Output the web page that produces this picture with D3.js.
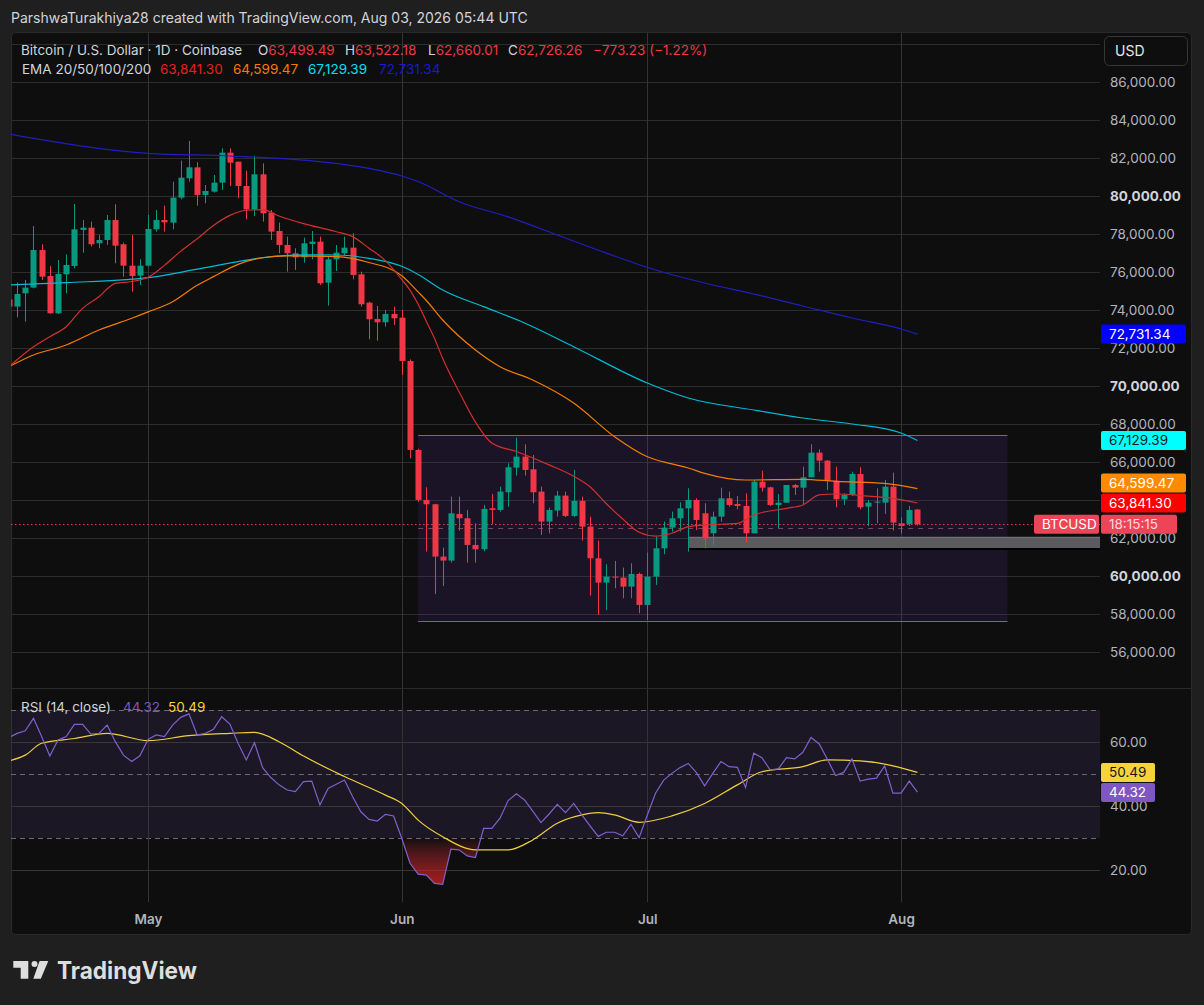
<!DOCTYPE html>
<html>
<head>
<meta charset="utf-8">
<script src="https://cdn.jsdelivr.net/npm/d3@7"></script>
<style>
  html, body { margin: 0; background: #1f1f1f; }
  svg text { font-family: Inter, "Noto Sans", sans-serif; }
</style>
</head>
<body>
<svg id="chart" width="1204" height="1005"></svg>
<script>
// daily bars, first one is 2026-04-14
const DAY = 864e5
const t0 = Date.UTC(2026, 3, 14)
const dayDate = d => new Date(t0 + d * DAY)

const open = [74550,74178,74879,75177,77159,75791,73827,75879,76317,78212,
  78335,77510,77685,78738,77458,76335,75809,76335,78247,78738,
  78598,79913,80931,81509,80054,80229,80702,82281,81807,80527,
  79299,81141,79124,78159,77423,76984,76773,77475,77598,75440,
  76668,76984,77282,75879,74388,73529,73353,73792,73597,71317,
  66634,64003,63775,61021,60811,63266,63038,61635,61407,63564,
  63477,64406,65704,66283,65616,64441,62863,63442,64231,63161,
  63950,62599,60933,59653,59968,59916,59442,60109,58477,59968,
  61460,62546,63038,63564,64001,63300,62247,63125,64089,63791,
  63686,62247,64966,64668,63738,63861,64791,64650,65194,66492,
  66071,65019,64036,64265,65370,63650,63861,63861,64703,62774,
  62739,63499.49]
const high = [74700,75440,75581,78422,77458,76317,76633,76931,79580,78738,
  78650,77948,79001,79562,77546,77949,76668,79001,79264,79492,
  80755,81860,82895,81772,80580,81106,82509,82509,81807,81334,
  82123,81720,79264,78598,77861,77247,77808,78159,77861,76809,
  77423,77861,78036,76019,74441,74212,74002,74178,74001,71400,
  66700,64669,63800,61495,64178,64178,63476,62775,63740,64318,
  64705,65932,67283,66932,66371,64705,63599,64476,64441,65581,
  64178,63126,61863,60617,60793,60442,60670,60179,61232,62074,
  62863,63389,63880,64617,64089,63826,63388,64650,64440,64212,
  64352,65054,65545,64703,64317,64791,64843,65755,66931,66667,
  66106,65755,64352,65492,65721,64001,64615,65054,65440,63089,
  63686,63522.18]
const low = [74000,73616,73388,75140,75581,73800,73790,74879,76195,77019,
  77335,77247,77422,76458,75756,74967,75318,76282,78124,78124,
  78247,79825,80755,79492,79615,80176,80317,80527,79878,78773,
  78948,78650,77685,76984,76019,76107,76493,76668,75318,74230,
  76054,76896,75616,74178,72459,72388,73125,73213,70580,66195,
  63900,61284,59056,59477,60705,62389,60705,60705,61300,62740,
  63389,63652,65283,65283,63828,62161,62249,63126,63100,63100,
  61863,58969,57951,58214,59354,58828,58828,58039,57688,59530,
  61144,62337,62337,61284,62423,61458,61633,62862,63650,63510,
  61756,62247,64440,63686,62511,63861,64264,63738,65194,65492,
  64528,63615,63738,64212,63510,62633,62774,63265,62388,62247,
  62633,62660.01]
const close = [74180,74844,75177,77159,75756,73827,75897,76370,78247,78335,
  77458,77685,78738,77388,76335,75791,76335,78264,78738,78615,
  79913,80966,81509,80054,80264,80702,82281,81755,80527,79299,
  81141,79089,78124,77423,76984,76773,77510,77598,75405,76668,
  77019,77282,75844,74300,73511,73353,73792,73564,71317,66634,
  64003,63775,61021,60811,63301,63038,61635,61407,63529,63477,
  64441,65722,66283,65582,64406,62863,63477,64231,63161,63950,
  62599,60933,59653,59968,59916,59442,60109,58477,59968,61460,
  62546,63038,63564,64003,62949,61984,63125,64089,63738,63686,
  62247,64966,64650,63738,63861,64791,64650,65194,66492,66071,
  65019,64036,64265,65370,63615,63861,63914,64703,62809,62633,
  63475,62726.26]

// EMA values: [day, price]
const ema20 = [[0,71017],[3,72070],[5,72596],[7,73122],[9,74088],[11,74700],[13,75404],[15,75500],
  [17,75720],[19,76350],[21,77100],[23,77750],[25,78450],[27,78980],[29,79250],[31,79280],[33,78950],
  [36,78550],[40,78120],[42,77860],[44,77250],[46,76600],[48,75600],[49,75050],[50,74300],[51,73400],
  [52,72500],[53,71450],[55,69700],[57,68100],[59,67000],[62,66550],[66,65850],[69,65250],[71,64700],
  [73,63800],[75,63000],[77,62300],[79,62100],[81,62250],[83,62600],[85,62686],[89,62774],[91,63212],
  [95,63563],[97,63738],[99,64265],[101,64317],[105,64200],[108,64089],[111,63841.30]]
const ema50 = [[0,71017],[3,71632],[7,72158],[11,72947],[15,73563],[17,73900],[20,74439],[23,75300],
  [25,75755],[28,76400],[31,76750],[34,76850],[40,76807],[44,76500],[48,75800],[49,75400],[50,74950],
  [51,74500],[53,73474],[57,71895],[60,71017],[64,70316],[69,69106],[74,67333],[78,66280],[81,65900],
  [83,65685],[85,65404],[90,65053],[97,65088],[101,64983],[107,64878],[111,64599.47]]
const ema100 = [[0,75316],[7,75439],[17,75700],[23,76150],[28,76550],[32,76807],[36,76900],[40,76896],
  [44,76720],[48,76300],[50,75870],[53,75053],[58,74176],[63,73316],[69,72070],[78,70158],[83,69369],
  [91,68737],[97,68316],[103,68000],[109,67527],[111,67129.39]]
const ema200 = [[0,83263],[17,82246],[27,82106],[38,81807],[44,81457],[48,81053],[50,80760],[55,79700],
  [61,78900],[67,77950],[73,76990],[79,76105],[85,75421],[91,74842],[97,74210],[103,73579],[109,72999],
  [111,72731.34]]

const rsi = [61.4,62.7,63.5,67.4,61.7,55.6,60.6,61.7,65.5,65.5,
  62.5,62.7,65.3,60.1,55.9,53.9,55.7,60.8,62.2,61.7,
  65.3,67.7,68.8,62.2,62.7,64.0,67.9,65.6,59.6,54.4,
  59.8,52.0,48.9,46.6,45.0,44.5,47.6,47.8,40.3,45.5,
  46.8,48.1,42.9,38.2,35.8,35.3,37.4,36.9,29.9,22.1,
  18.7,18.4,15.8,15.5,26.5,26.3,24.4,23.9,33.0,33.0,
  36.2,41.7,43.8,41.9,38.4,34.8,37.5,40.5,37.9,40.8,
  37.2,33.8,30.5,31.8,31.8,30.7,34.3,30.1,37.2,44.0,
  48.1,50.2,52.0,53.3,50.4,46.3,50.2,53.9,52.3,52.1,
  45.8,56.5,55.1,51.3,51.6,55.1,54.7,56.8,61.4,59.4,
  54.6,49.5,50.5,54.7,47.8,48.4,48.7,52.5,44.0,44.0,
  47.8,44.32]
const rsiMa = [[0,54.1],[2,55.9],[4,59.6],[8,61.1],[12,62.7],[17,60.4],[22,62],[27,62.7],[30,63],
  [33,60.1],[36,55.6],[41,49.2],[46,43.4],[48,40.8],[50,35.6],[53,30.4],[57,26.3],[61,26.3],[64,29.4],
  [67,34.6],[70,37.2],[72,37.9],[74,37.2],[77,34.9],[81,36.9],[85,40.8],[89,46.6],[92,50.7],[97,52.3],
  [100,54.4],[104,54.1],[107,53.1],[111,50.49]]

const priceTicks = d3.range(56000, 86001, 2000)
const priceGrid = d3.range(56000, 88001, 2000)
const rsiTicks = [20, 40, 60]
const rsiBands = [30, 50, 70]
const months = ['2026-05-01', '2026-06-01', '2026-07-01', '2026-08-01'].map(s => new Date(s + 'T00:00:00Z'))

const rangeBox = { from: 50, to: 122, top: 67420, bottom: 57640 }
const supportZone = { from: 83, top: 62060, bottom: 61470 }
const lastPrice = close[close.length - 1]
const emaLast = [63841.30, 64599.47, 67129.39, 72731.34]

// layout
const W = 1204, H = 1005
const L = 11, R = 1100, TOP = 33, PB = 688, RB = 902

const x = d3.scaleUtc().domain([dayDate(0), dayDate(133)]).range([8.9, 8.9 + 133 * 8.185])
const xd = d => x(dayDate(d))
const y = d3.scaleLinear().domain([56000, 86000]).range([652, 82])
const yR = d3.scaleLinear().domain([20, 60]).range([870, 742])
const crisp = v => Math.round(v) + 0.5
const fmt = d3.format(',.2f')

const svg = d3.select('#chart')
svg.append('rect').attr('width', W).attr('height', H).attr('fill', '#1f1f1f')
svg.append('rect').attr('x', 11.5).attr('y', 32.5).attr('width', 1180).attr('height', 902)
  .attr('rx', 4).attr('fill', '#0e0e0e').attr('stroke', '#2a2a2a')

const defs = svg.append('defs')
const clip = (id, x0, y0, w, h) => defs.append('clipPath').attr('id', id)
  .append('rect').attr('x', x0).attr('y', y0).attr('width', w).attr('height', h)
clip('cp-price', L, TOP, R - L, PB - TOP)
clip('cp-rsi', L, PB + 1, R - L, RB - PB - 1)
clip('cp-os', L, yR(30), R - L, RB - yR(30))
const grad = defs.append('linearGradient').attr('id', 'os-fill').attr('gradientUnits', 'userSpaceOnUse')
  .attr('x1', 0).attr('x2', 0).attr('y1', yR(30)).attr('y2', yR(15))
grad.append('stop').attr('offset', 0).attr('stop-color', '#f23645').attr('stop-opacity', 0.02)
grad.append('stop').attr('offset', 1).attr('stop-color', '#b71c1c').attr('stop-opacity', 0.9)

// header
svg.append('text').attr('x', 11).attr('y', 18).attr('dy', '0.35em').attr('fill', '#d1d4dc')
  .style('font-size', '14px').text('ParshwaTurakhiya28 created with TradingView.com, Aug 03, 2026 05:44 UTC')

// RSI background band
svg.append('rect').attr('x', L).attr('width', R - L).attr('y', yR(70)).attr('height', yR(30) - yR(70))
  .attr('fill', 'rgba(126,87,194,0.12)')

// grid
const grid = svg.append('g')
grid.selectAll('line.h').data(priceGrid).join('line').attr('class', 'h')
  .attr('x1', L).attr('x2', R).attr('y1', d => crisp(y(d))).attr('y2', d => crisp(y(d)))
  .attr('stroke', '#2c2c2c')
grid.selectAll('line.r').data(rsiTicks).join('line').attr('class', 'r')
  .attr('x1', L).attr('x2', R).attr('y1', d => crisp(yR(d))).attr('y2', d => crisp(yR(d)))
  .attr('stroke', '#363636')
grid.selectAll('line.b').data(rsiBands).join('line').attr('class', 'b')
  .attr('x1', L).attr('x2', R).attr('y1', d => crisp(yR(d))).attr('y2', d => crisp(yR(d)))
  .attr('stroke', '#6a6a70').attr('stroke-dasharray', '5 4')
grid.selectAll('line.v').data(months).join('line').attr('class', 'v')
  .attr('x1', d => crisp(x(d))).attr('x2', d => crisp(x(d))).attr('y1', TOP).attr('y2', RB)
  .attr('stroke', '#343434')
svg.append('line').attr('x1', 11).attr('x2', 1192).attr('y1', PB + 0.5).attr('y2', PB + 0.5).attr('stroke', '#2a2a2a')

// price pane
const pane = svg.append('g').attr('clip-path', 'url(#cp-price)')

pane.append('rect').attr('x', xd(rangeBox.from)).attr('width', xd(rangeBox.to) - xd(rangeBox.from))
  .attr('y', y(rangeBox.top)).attr('height', y(rangeBox.bottom) - y(rangeBox.top))
  .attr('fill', 'rgba(103,58,183,0.14)')
pane.selectAll('line.box').data([rangeBox.top, rangeBox.bottom]).join('line').attr('class', 'box')
  .attr('x1', xd(rangeBox.from)).attr('x2', xd(rangeBox.to))
  .attr('y1', d => crisp(y(d))).attr('y2', d => crisp(y(d)))
  .attr('stroke', '#f23645')
pane.append('line').attr('x1', xd(rangeBox.from)).attr('x2', xd(rangeBox.to))
  .attr('y1', crisp(y((rangeBox.top + rangeBox.bottom) / 2))).attr('y2', crisp(y((rangeBox.top + rangeBox.bottom) / 2)))
  .attr('stroke', 'rgba(200,110,150,0.55)').attr('stroke-dasharray', '5 5')

pane.append('rect').attr('x', xd(supportZone.from)).attr('width', R - xd(supportZone.from))
  .attr('y', y(supportZone.top)).attr('height', y(supportZone.bottom) - y(supportZone.top))
  .attr('fill', '#5a5a5f')
pane.append('line').attr('x1', xd(supportZone.from)).attr('x2', R)
  .attr('y1', y(supportZone.top) + 0.5).attr('y2', y(supportZone.top) + 0.5).attr('stroke', '#74747a')
pane.append('line').attr('x1', xd(supportZone.from)).attr('x2', R)
  .attr('y1', y(supportZone.bottom) + 1).attr('y2', y(supportZone.bottom) + 1).attr('stroke', '#000').attr('stroke-width', 2)

pane.append('line').attr('x1', L).attr('x2', R).attr('y1', crisp(y(lastPrice))).attr('y2', crisp(y(lastPrice)))
  .attr('stroke', '#f23645').attr('stroke-dasharray', '1.5 2.5')

const bars = d3.range(open.length)
const up = i => close[i] >= open[i]
const candle = pane.selectAll('g.c').data(bars).join('g').attr('class', 'c')
  .attr('fill', i => up(i) ? '#089981' : '#f23645').attr('stroke', i => up(i) ? '#089981' : '#f23645')
candle.append('line')
  .attr('x1', i => crisp(xd(i))).attr('x2', i => crisp(xd(i)))
  .attr('y1', i => y(high[i])).attr('y2', i => y(low[i]))
candle.append('rect').attr('stroke', 'none')
  .attr('x', i => Math.round(xd(i)) - 2.5).attr('width', 6)
  .attr('y', i => y(Math.max(open[i], close[i])))
  .attr('height', i => Math.max(1, Math.abs(y(open[i]) - y(close[i]))))

const emaLine = d3.line().x(d => xd(d[0])).y(d => y(d[1])).curve(d3.curveMonotoneX)
const emas = [[ema200, '#1f1fc4'], [ema100, '#00bcd4'], [ema50, '#f57c00'], [ema20, '#d32f2f']]
pane.selectAll('path.ema').data(emas).join('path').attr('class', 'ema')
  .attr('d', d => emaLine(d[0])).attr('fill', 'none').attr('stroke', d => d[1]).attr('stroke-width', 1.2)

// RSI pane
const rp = svg.append('g').attr('clip-path', 'url(#cp-rsi)')
rp.append('g').attr('clip-path', 'url(#cp-os)').append('path')
  .attr('d', d3.area().x((v, i) => xd(i)).y0(yR(30)).y1(v => yR(v))(rsi))
  .attr('fill', 'url(#os-fill)')
rp.append('path').attr('d', d3.line().x(d => xd(d[0])).y(d => yR(d[1])).curve(d3.curveMonotoneX)(rsiMa))
  .attr('fill', 'none').attr('stroke', '#f0cf3a').attr('stroke-width', 1.2)
rp.append('path').attr('d', d3.line().x((v, i) => xd(i)).y(v => yR(v))(rsi))
  .attr('fill', 'none').attr('stroke', '#8060cc').attr('stroke-width', 1.2)

// right side value tags (stacked so they do not overlap)
const priceTags = [
  { v: lastPrice, text: '18:15:15', bg: '#ec4458', fg: '#ffd9dd', w: 76 },
  { v: emaLast[0], text: fmt(emaLast[0]), bg: '#ff0000', fg: '#fff' },
  { v: emaLast[1], text: fmt(emaLast[1]), bg: '#ff8a00', fg: '#fff' },
  { v: emaLast[2], text: fmt(emaLast[2]), bg: '#00ffff', fg: '#131722' },
  { v: emaLast[3], text: fmt(emaLast[3]), bg: '#0000ff', fg: '#fff' }
].map(t => ({ ...t, cy: y(t.v) })).sort((a, b) => b.cy - a.cy)
priceTags.forEach((t, i) => { if (i) t.cy = Math.min(t.cy, priceTags[i - 1].cy - 20) })

const rsiTags = [
  { v: rsiMa[rsiMa.length - 1][1], bg: '#f7d33a', fg: '#131722', w: 54 },
  { v: rsi[rsi.length - 1], bg: '#7e57c2', fg: '#fff', w: 54 }
].map(t => ({ ...t, text: d3.format('.2f')(t.v), cy: yR(t.v) })).sort((a, b) => a.cy - b.cy)
rsiTags.forEach((t, i) => { if (i) t.cy = Math.max(t.cy, rsiTags[i - 1].cy + 20) })

// axis labels hidden where a tag sits right on them
const hidden = (py, list) => list.some(t => Math.abs(t.cy - py) < 7)

// axes
const priceAxis = svg.append('g').attr('transform', 'translate(1110,0)')
  .call(d3.axisRight(y).tickValues(priceTicks.filter(v => !hidden(y(v), priceTags)))
    .tickSize(0).tickPadding(0).tickFormat(fmt))
priceAxis.select('.domain').remove()
priceAxis.attr('font-family', null).attr('font-size', null)
priceAxis.selectAll('text').style('font-size', '13.5px')
  .attr('font-weight', d => d % 10000 === 0 ? 700 : 400)
  .attr('fill', d => d % 10000 === 0 ? '#d1d4dc' : '#b2b5be')

const rsiAxis = svg.append('g').attr('transform', 'translate(1110,0)')
  .call(d3.axisRight(yR).tickValues(rsiTicks).tickSize(0).tickPadding(0).tickFormat(d3.format('.2f')))
rsiAxis.select('.domain').remove()
rsiAxis.attr('font-family', null).attr('font-size', null)
rsiAxis.selectAll('text').style('font-size', '13.5px').attr('fill', '#b2b5be')

const timeAxis = svg.append('g').attr('transform', 'translate(0,914)')
  .call(d3.axisBottom(x).tickValues(months).tickSize(0).tickPadding(0).tickFormat(d3.utcFormat('%b')))
timeAxis.select('.domain').remove()
timeAxis.attr('font-family', null).attr('font-size', null)
timeAxis.selectAll('text').style('font-size', '13.5px').attr('font-weight', 600).attr('fill', '#b2b5be')

// USD button
svg.append('rect').attr('x', 1104.5).attr('y', 36.5).attr('width', 83).attr('height', 29).attr('rx', 5)
  .attr('fill', '#0e0e0e').attr('stroke', '#363636')
svg.append('text').attr('x', 1115).attr('y', 51).attr('dy', '0.35em').attr('fill', '#e6e6e6')
  .style('font-size', '14px').text('USD')

const tags = svg.append('g')
function tag(t) {
  tags.append('rect').attr('x', t.x0 || 1101).attr('y', t.cy - 9.5).attr('width', t.w || 85).attr('height', 19)
    .attr('rx', 2).attr('fill', t.bg)
  tags.append('text').attr('x', (t.x0 || 1101) + 8).attr('y', t.cy).attr('dy', '0.35em')
    .attr('fill', t.fg).style('font-size', '13.5px').text(t.text)
}
priceTags.forEach(tag)
tag({ cy: y(lastPrice), x0: 1034, w: 65, bg: '#ec4458', fg: '#fff', text: 'BTCUSD' })
rsiTags.forEach(tag)

// legends
const leg1 = svg.append('text').attr('y', 50).attr('dy', '0.35em').style('font-size', '13.5px').attr('fill', '#d1d4dc')
leg1.append('tspan').attr('x', 21).text('Bitcoin / U.S. Dollar · 1D · Coinbase')
const ohlc = [['O', open], ['H', high], ['L', low], ['C', close]]
const ohlcX = [258, 345, 428, 508]
ohlc.forEach(([k, arr], i) => {
  leg1.append('tspan').attr('x', ohlcX[i]).text(k)
  leg1.append('tspan').attr('fill', '#f23645').text(fmt(arr[arr.length - 1]))
})
leg1.append('tspan').attr('x', 593).attr('fill', '#f23645').text('−773.23 (−1.22%)')

const leg2 = svg.append('text').attr('y', 69).attr('dy', '0.35em').style('font-size', '13.5px').attr('fill', '#d1d4dc')
leg2.append('tspan').attr('x', 22).text('EMA 20/50/100/200')
const emaColors = ['#e81e1e', '#f57c00', '#00e0f0', '#1a1ad0']
const emaX = [160, 233, 308, 379]
emaLast.forEach((v, i) => leg2.append('tspan').attr('x', emaX[i]).attr('fill', emaColors[i]).text(fmt(v)))

const leg3 = svg.append('text').attr('y', 707).attr('dy', '0.35em').style('font-size', '13.5px').attr('fill', '#d1d4dc')
leg3.append('tspan').attr('x', 21).text('RSI (14, close)')
leg3.append('tspan').attr('x', 123).attr('fill', '#7e57c2').text(d3.format('.2f')(rsi[rsi.length - 1]))
leg3.append('tspan').attr('x', 168).attr('fill', '#f7d33a').text(d3.format('.2f')(rsiMa[rsiMa.length - 1][1]))

// TradingView logo
const logo = svg.append('g').attr('fill', '#dedede')
logo.append('path').attr('d', 'M13.3,961 H28.3 V978.7 H20.7 V967.7 H13.3 Z')
logo.append('circle').attr('cx', 34.5).attr('cy', 964).attr('r', 3)
logo.append('path').attr('d', 'M39.6,961 H48.3 L40.8,978.7 H33.3 Z')
logo.append('text').attr('x', 57).attr('y', 979).attr('font-weight', 700).style('font-size', '24px')
  .attr('textLength', 140).attr('lengthAdjust', 'spacingAndGlyphs').text('TradingView')
</script>
</body>
</html>
